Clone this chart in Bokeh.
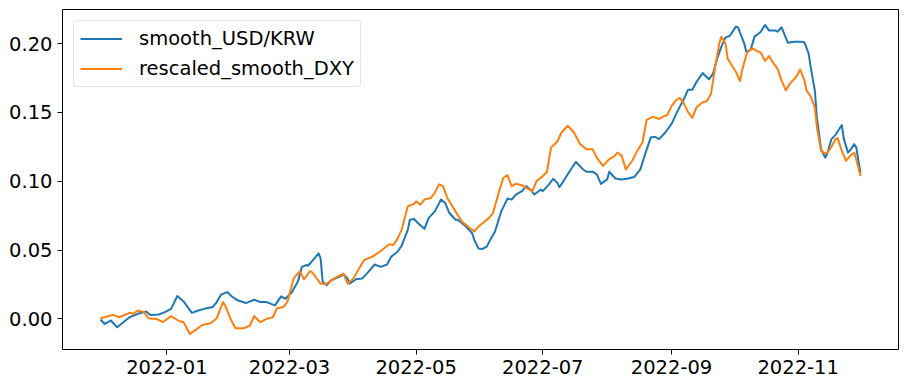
import pandas as pd
from bokeh.plotting import figure
from bokeh.models import Range1d, FixedTicker, NumeralTickFormatter, DatetimeTickFormatter
from bokeh.embed import file_html
from bokeh.resources import INLINE

# ---------------- data ----------------
usd_krw_dates = [
    "2021-11-30", "2021-12-02", "2021-12-05", "2021-12-08", "2021-12-11", "2021-12-14",
    "2021-12-18", "2021-12-22", "2021-12-24", "2021-12-28", "2021-12-31", "2022-01-03",
    "2022-01-06", "2022-01-09", "2022-01-13", "2022-01-16", "2022-01-19", "2022-01-23",
    "2022-01-25", "2022-01-27", "2022-01-30", "2022-02-01", "2022-02-04", "2022-02-08",
    "2022-02-12", "2022-02-15", "2022-02-18", "2022-02-22", "2022-02-25", "2022-02-27",
    "2022-03-02", "2022-03-05", "2022-03-07", "2022-03-09", "2022-03-10", "2022-03-13",
    "2022-03-15", "2022-03-16", "2022-03-17", "2022-03-19", "2022-03-21", "2022-03-25",
    "2022-03-27", "2022-03-29", "2022-03-30", "2022-04-02", "2022-04-05", "2022-04-08",
    "2022-04-11", "2022-04-14", "2022-04-17", "2022-04-19", "2022-04-22", "2022-04-24",
    "2022-04-27", "2022-04-28", "2022-04-30", "2022-05-02", "2022-05-05", "2022-05-07",
    "2022-05-10", "2022-05-13", "2022-05-15", "2022-05-17", "2022-05-20", "2022-05-21",
    "2022-05-25", "2022-05-28", "2022-05-29", "2022-05-31", "2022-06-02", "2022-06-04",
    "2022-06-06", "2022-06-08", "2022-06-11", "2022-06-14", "2022-06-16", "2022-06-18",
    "2022-06-21", "2022-06-23", "2022-06-25", "2022-06-27", "2022-06-30", "2022-07-01",
    "2022-07-04", "2022-07-06", "2022-07-08", "2022-07-09", "2022-07-11", "2022-07-13",
    "2022-07-15", "2022-07-17", "2022-07-20", "2022-07-22", "2022-07-25", "2022-07-27",
    "2022-07-29", "2022-08-01", "2022-08-02", "2022-08-05", "2022-08-08", "2022-08-11",
    "2022-08-14", "2022-08-17", "2022-08-19", "2022-08-22", "2022-08-24", "2022-08-26",
    "2022-08-29", "2022-09-01", "2022-09-04", "2022-09-07", "2022-09-09", "2022-09-11",
    "2022-09-13", "2022-09-16", "2022-09-17", "2022-09-19", "2022-09-21", "2022-09-23",
    "2022-09-25", "2022-09-27", "2022-09-29", "2022-10-02", "2022-10-03", "2022-10-06",
    "2022-10-07", "2022-10-09", "2022-10-11", "2022-10-14", "2022-10-16", "2022-10-18",
    "2022-10-21", "2022-10-22", "2022-10-24", "2022-10-27", "2022-10-30", "2022-11-02",
    "2022-11-04", "2022-11-06", "2022-11-07", "2022-11-09", "2022-11-10", "2022-11-12",
    "2022-11-14", "2022-11-15", "2022-11-17", "2022-11-19", "2022-11-22", "2022-11-23",
    "2022-11-25", "2022-11-26", "2022-11-28", "2022-11-29", "2022-11-30", "2022-12-01",
]
usd_krw_values = [
    -0.0004, -0.0037, -0.0012, -0.0061, -0.0024, 0.0012,
    0.0037, 0.0054, 0.0029, 0.0032, 0.0049, 0.0073,
    0.0166, 0.0127, 0.0044, 0.0061, 0.0073, 0.0086,
    0.0122, 0.0176, 0.0195, 0.0166, 0.0135, 0.0115,
    0.0139, 0.0122, 0.0122, 0.0098, 0.0164, 0.0146,
    0.0190, 0.0269, 0.0378, 0.0391, 0.0386, 0.0439,
    0.0476, 0.0439, 0.0269, 0.0245, 0.0281, 0.0305,
    0.0322, 0.0293, 0.0256, 0.0288, 0.0293, 0.0342,
    0.0395, 0.0378, 0.0395, 0.0452, 0.0488, 0.0530,
    0.0647, 0.0720, 0.0725, 0.0695, 0.0654, 0.0732,
    0.0781, 0.0867, 0.0842, 0.0769, 0.0720, 0.0720,
    0.0671, 0.0622, 0.0574, 0.0512, 0.0508, 0.0525,
    0.0583, 0.0635, 0.0781, 0.0874, 0.0867, 0.0903,
    0.0928, 0.0964, 0.0940, 0.0903, 0.0940, 0.0928,
    0.0977, 0.1018, 0.0988, 0.0957, 0.1001, 0.1050,
    0.1098, 0.1140, 0.1091, 0.1069, 0.1069, 0.1050,
    0.0981, 0.1013, 0.1069, 0.1020, 0.1013, 0.1020,
    0.1030, 0.1086, 0.1184, 0.1318, 0.1323, 0.1306,
    0.1354, 0.1416, 0.1513, 0.1599, 0.1665, 0.1665,
    0.1720, 0.1786, 0.1769, 0.1740, 0.1782, 0.1892,
    0.1977, 0.2045, 0.2055, 0.2123, 0.2118, 0.2001,
    0.1940, 0.1952, 0.2050, 0.2086, 0.2135, 0.2094,
    0.2094, 0.2086, 0.2118, 0.2006, 0.2013, 0.2013,
    0.2009, 0.1928, 0.1830, 0.1660, 0.1464, 0.1233,
    0.1171, 0.1201, 0.1306, 0.1337, 0.1408, 0.1306,
    0.1208, 0.1225, 0.1269, 0.1245, 0.1147, 0.1061,
]

dxy_dates = [
    "2021-11-30", "2021-12-06", "2021-12-09", "2021-12-14", "2021-12-16", "2021-12-18",
    "2021-12-21", "2021-12-23", "2021-12-27", "2021-12-30", "2022-01-03", "2022-01-07",
    "2022-01-09", "2022-01-12", "2022-01-15", "2022-01-18", "2022-01-22", "2022-01-25",
    "2022-01-28", "2022-01-29", "2022-02-01", "2022-02-03", "2022-02-07", "2022-02-10",
    "2022-02-12", "2022-02-15", "2022-02-18", "2022-02-21", "2022-02-23", "2022-02-26",
    "2022-02-28", "2022-03-03", "2022-03-06", "2022-03-08", "2022-03-11", "2022-03-12",
    "2022-03-16", "2022-03-19", "2022-03-23", "2022-03-27", "2022-03-29", "2022-04-01",
    "2022-04-04", "2022-04-06", "2022-04-10", "2022-04-14", "2022-04-18", "2022-04-20",
    "2022-04-22", "2022-04-24", "2022-04-27", "2022-04-30", "2022-05-01", "2022-05-03",
    "2022-05-05", "2022-05-08", "2022-05-10", "2022-05-12", "2022-05-14", "2022-05-16",
    "2022-05-20", "2022-05-23", "2022-05-26", "2022-05-29", "2022-05-31", "2022-06-02",
    "2022-06-05", "2022-06-07", "2022-06-10", "2022-06-12", "2022-06-14", "2022-06-16",
    "2022-06-18", "2022-06-21", "2022-06-23", "2022-06-26", "2022-06-28", "2022-07-01",
    "2022-07-03", "2022-07-05", "2022-07-08", "2022-07-10", "2022-07-13", "2022-07-16",
    "2022-07-19", "2022-07-22", "2022-07-25", "2022-07-27", "2022-07-30", "2022-08-02",
    "2022-08-04", "2022-08-06", "2022-08-08", "2022-08-10", "2022-08-13", "2022-08-15",
    "2022-08-18", "2022-08-20", "2022-08-23", "2022-08-26", "2022-08-28", "2022-08-30",
    "2022-09-01", "2022-09-03", "2022-09-05", "2022-09-07", "2022-09-09", "2022-09-11",
    "2022-09-13", "2022-09-16", "2022-09-18", "2022-09-20", "2022-09-22", "2022-09-24",
    "2022-09-25", "2022-09-27", "2022-09-28", "2022-09-30", "2022-10-02", "2022-10-04",
    "2022-10-05", "2022-10-07", "2022-10-08", "2022-10-10", "2022-10-12", "2022-10-14",
    "2022-10-16", "2022-10-18", "2022-10-20", "2022-10-22", "2022-10-24", "2022-10-26",
    "2022-10-28", "2022-10-31", "2022-11-02", "2022-11-04", "2022-11-05", "2022-11-07",
    "2022-11-09", "2022-11-10", "2022-11-12", "2022-11-14", "2022-11-15", "2022-11-17",
    "2022-11-19", "2022-11-20", "2022-11-22", "2022-11-24", "2022-11-26", "2022-11-28",
    "2022-11-30", "2022-12-01",
]
dxy_values = [
    0.0005, 0.0029, 0.0012, 0.0044, 0.0037, 0.0061,
    0.0049, 0.0005, 0.0000, -0.0024, 0.0020, -0.0017,
    -0.0024, -0.0110, -0.0078, -0.0044, -0.0031, 0.0005,
    0.0122, 0.0098, -0.0012, -0.0068, -0.0068, -0.0048,
    0.0020, -0.0024, 0.0000, 0.0012, 0.0078, 0.0086,
    0.0122, 0.0293, 0.0347, 0.0288, 0.0347, 0.0337,
    0.0256, 0.0256, 0.0298, 0.0329, 0.0256, 0.0298,
    0.0378, 0.0428, 0.0452, 0.0493, 0.0542, 0.0537,
    0.0581, 0.0647, 0.0818, 0.0835, 0.0854, 0.0830,
    0.0867, 0.0878, 0.0915, 0.0977, 0.0964, 0.0878,
    0.0781, 0.0708, 0.0671, 0.0635, 0.0671, 0.0695,
    0.0732, 0.0769, 0.0928, 0.1025, 0.1045, 0.0964,
    0.0981, 0.0971, 0.0952, 0.0928, 0.1001, 0.1037,
    0.1069, 0.1245, 0.1288, 0.1354, 0.1403, 0.1354,
    0.1269, 0.1233, 0.1233, 0.1171, 0.1111, 0.1160,
    0.1176, 0.1208, 0.1184, 0.1086, 0.1147, 0.1208,
    0.1281, 0.1445, 0.1469, 0.1452, 0.1469, 0.1482,
    0.1545, 0.1586, 0.1606, 0.1562, 0.1501, 0.1460,
    0.1537, 0.1574, 0.1581, 0.1635, 0.1830, 0.2001,
    0.2050, 0.2001, 0.1892, 0.1843, 0.1794, 0.1728,
    0.1806, 0.1916, 0.1947, 0.1965, 0.1947, 0.1933,
    0.1874, 0.1909, 0.1859, 0.1818, 0.1733, 0.1660,
    0.1709, 0.1757, 0.1811, 0.1733, 0.1660, 0.1616,
    0.1537, 0.1391, 0.1220, 0.1201, 0.1208, 0.1250,
    0.1306, 0.1313, 0.1220, 0.1147, 0.1184, 0.1208,
    0.1098, 0.1037,
]

series_labels = ["smooth_USD/KRW", "rescaled_smooth_DXY"]
y_ticks = [0.00, 0.05, 0.10, 0.15, 0.20]
x_tick_labels = ["2022-01", "2022-03", "2022-05", "2022-07", "2022-09", "2022-11"]

# ---------------- figure ----------------
krw_x = pd.to_datetime(usd_krw_dates)
dxy_x = pd.to_datetime(dxy_dates)

x_min = min(krw_x.min(), dxy_x.min())
x_max = max(krw_x.max(), dxy_x.max())
x_pad = (x_max - x_min) * 0.05
all_y = usd_krw_values + dxy_values
y_pad = (max(all_y) - min(all_y)) * 0.05

p = figure(
    x_axis_type="datetime",
    frame_width=836, frame_height=340,
    min_border_left=62, min_border_right=4, min_border_top=9, min_border_bottom=30,
    x_range=Range1d(x_min - x_pad, x_max + x_pad),
    y_range=Range1d(min(all_y) - y_pad, max(all_y) + y_pad),
    output_backend="svg", toolbar_location=None,
)

p.line(krw_x, usd_krw_values, line_color="#1f77b4", line_width=2, line_join="round",
       legend_label=series_labels[0])
p.line(dxy_x, dxy_values, line_color="#ff7f0e", line_width=2, line_join="round",
       legend_label=series_labels[1])

p.xgrid.visible = False
p.ygrid.visible = False
p.outline_line_color = "black"
p.outline_line_width = 1

tick_ms = [pd.Timestamp(t + "-01").value // 10**6 for t in x_tick_labels]
p.xaxis.ticker = FixedTicker(ticks=tick_ms)
p.xaxis.formatter = DatetimeTickFormatter(
    days="%Y-%m", months="%Y-%m", years="%Y-%m", hours="%Y-%m",
)
p.yaxis.ticker = FixedTicker(ticks=y_ticks)
p.yaxis.formatter = NumeralTickFormatter(format="0.00")

for ax in (p.xaxis[0], p.yaxis[0]):
    ax.major_label_text_font = "DejaVu Sans"
    ax.major_label_text_font_size = "19.5px"
    ax.major_label_text_color = "black"
    ax.axis_line_color = None
    ax.major_tick_line_color = "black"
    ax.major_tick_out = 5
    ax.major_tick_in = 0
    ax.minor_tick_line_color = None
    ax.major_label_standoff = 5

leg = p.legend[0]
leg.location = "top_left"
leg.margin = 11
leg.padding = 6
leg.spacing = 7
leg.glyph_width = 42
leg.glyph_height = 23
leg.label_height = 23
leg.label_standoff = 17
leg.label_text_font = "DejaVu Sans"
leg.label_text_font_size = "19.5px"
leg.label_text_color = "black"
leg.border_line_color = "#cccccc"
leg.background_fill_alpha = 0.8
if "border_radius" in leg.properties():
    leg.border_radius = 4

open("out.html", "w").write(file_html(p, INLINE))
